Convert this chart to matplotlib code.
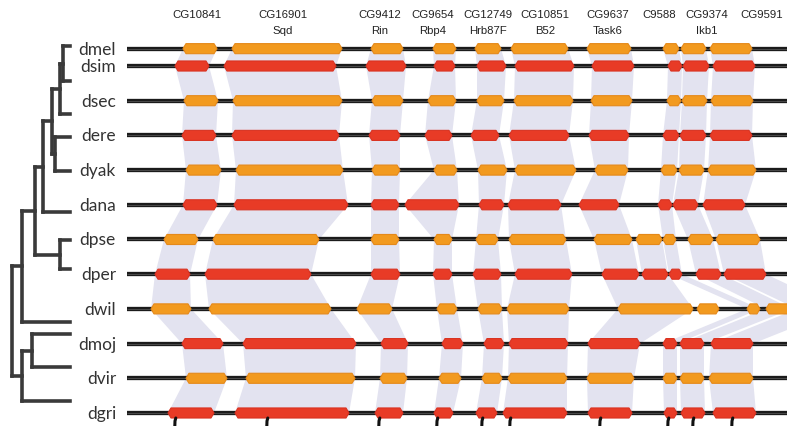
import matplotlib
matplotlib.use("Agg")
import matplotlib.pyplot as plt

# ---------------------------------------------------------------------------
# Data: gene models (start, end) on each species' scaffold, in a shared
# coordinate frame; None means the gene is not present on that track.
# ---------------------------------------------------------------------------
species = ["dmel", "dsim", "dsec", "dere", "dyak", "dana",
           "dpse", "dper", "dwil", "dmoj", "dvir", "dgri"]

genes = ["CG10841", "CG16901", "CG9412", "CG9654", "CG12749", "CG10851",
         "CG9637", "GA-obs", "C9588", "CG9374", "CG9591", "GK-wil"]

header_top = ["CG10841", "CG16901", "CG9412", "CG9654", "CG12749",
              "CG10851", "CG9637", "C9588", "CG9374", "CG9591"]
header_bottom = ["", "Sqd", "Rin", "Rbp4", "Hrb87F", "B52", "Task6", "",
                 "Ikb1", ""]

dmel = [(183, 217), (232, 342), (371, 403), (433, 456), (475, 501), (511, 568),
        (587, 631), None, (663, 679), (681, 706), (710, 752), None]
dsim = [(175, 209), (224, 336), (366, 406), (434, 455), (477, 506), (515, 574),
        (592, 634), None, (668, 682), (683, 709), (713, 755), None]
dsec = [(184, 218), (233, 342), (372, 403), (428, 456), (477, 504), (514, 573),
        (591, 632), None, (667, 681), (682, 707), (711, 753), None]
dere = [(182, 216), (232, 339), (369, 400), (425, 452), (471, 499), (509, 569),
        (589, 629), None, (663, 679), (680, 706), (710, 752), None]
dyak = [(186, 221), (236, 343), (372, 400), (434, 457), (478, 507), (515, 576),
        (595, 628), None, (661, 677), (679, 704), (708, 756), None]
dana = [(183, 217), (234, 348), (371, 399), (405, 459), (479, 504), (508, 561),
        (579, 619), None, (658, 672), (673, 698), (703, 745), None]
dpse = [(164, 198), (213, 319), (371, 399), (434, 452), (476, 498), (509, 566),
        (594, 632), (636, 662), (663, 676), (688, 713), (716, 760), None]
dper = [(155, 190), (205, 311), (371, 400), (433, 452), (473, 501), (515, 572),
        (602, 639), (642, 668), (669, 682), (696, 721), (724, 766), None]
dwil = [(151, 191), (209, 331), (357, 392), (437, 457), (478, 502), (507, 569),
        (618, 693), None, (747, 760), (766, 792), (797, 840), (697, 719)]
dmoj = [(182, 223), (243, 356), (381, 408), (442, 463), (484, 504), (509, 568),
        (588, 640), None, (663, 677), (680, 704), (711, 753), None]
dvir = [(186, 227), (246, 355), (380, 407), (439, 461), (482, 502), (508, 567),
        (587, 634), None, (663, 677), (680, 704), (709, 753), None]
dgri = [(168, 214), (235, 349), (375, 403), (434, 453), (476, 497), (503, 567),
        (588, 632), None, (664, 677), (681, 705), (713, 756), None]

tracks = [dmel, dsim, dsec, dere, dyak, dana, dpse, dper, dwil, dmoj, dvir, dgri]

# extra orthology links between neighbouring tracks
extra_links = [("dper", "GA-obs", "dwil", "CG9637")]

# ---------------------------------------------------------------------------
# Layout / style
# ---------------------------------------------------------------------------
track_y = [0.5, 1, 2, 3, 4, 5, 6, 7, 8, 9, 10, 11]   # vertical slot per species
track_x0 = 127
gene_h = 0.29
chamfer = 3.0
ORANGE = "#F29A1F"
ORANGE_EDGE = "#E5891A"
RED = "#E83B26"
RED_EDGE = "#D93322"
RIBBON = "#E3E3F0"
LINE = "#1b1b1b"
TREE = "#3a3a3a"

W, H = 787, 427
fig = plt.figure(figsize=(W / 100, H / 100), dpi=100)
ax = fig.add_axes([0, 0, 1, 1])
ax.set_xlim(0, W)
ax.set_ylim(11.375, -0.931)
ax.axis("off")

sp_index = {s: i for i, s in enumerate(species)}
g_index = {g: i for i, g in enumerate(genes)}


def ribbon(a, b, ya, yb):
    ax.fill([a[0], a[1], b[1], b[0]], [ya, ya, yb, yb],
            color=RIBBON, lw=0, zorder=1)


# synteny ribbons between consecutive tracks
for i in range(len(tracks) - 1):
    for gi in range(len(genes)):
        a, b = tracks[i][gi], tracks[i + 1][gi]
        if a is not None and b is not None:
            ribbon(a, b, track_y[i], track_y[i + 1])
for sa, ga, sb, gb in extra_links:
    ia, ib = sp_index[sa], sp_index[sb]
    ribbon(tracks[ia][g_index[ga]], tracks[ib][g_index[gb]],
           track_y[ia], track_y[ib])

# scaffold lines and gene blocks
for i, (name, tr) in enumerate(zip(species, tracks)):
    y = track_y[i]
    ax.plot([track_x0, W + 5], [y, y], color=LINE, lw=3.1,
            solid_capstyle="butt", zorder=2)
    ax.plot([track_x0, W + 5], [y, y], color="#4a4a4a", lw=0.7,
            solid_capstyle="butt", zorder=2)
    face, edge = (ORANGE, ORANGE_EDGE) if i % 2 == 0 else (RED, RED_EDGE)
    for g in tr:
        if g is None:
            continue
        s, e = g
        xs = [s, s + chamfer, e - chamfer, e, e - chamfer, s + chamfer]
        ys = [y, y - gene_h / 2, y - gene_h / 2, y, y + gene_h / 2, y + gene_h / 2]
        ax.fill(xs, ys, facecolor=face, edgecolor=edge, lw=0.8, zorder=3)
    ax.text(116, y, name, ha="right", va="center", fontsize=12.5,
            family="Lato", color="#333333", zorder=4)

# gene headers
header_x = [197, 283, 380, 433, 488, 545, 608, 659, 707, 762]
ov = fig.add_axes([0, 0, 1, 1], facecolor="none")
ov.set_xlim(0, W)
ov.set_ylim(H, 0)
ov.axis("off")
for x, t1, t2 in zip(header_x, header_top, header_bottom):
    ov.text(x, 15, t1, ha="center", va="center", fontsize=8.2,
            family="Liberation Sans", color="#222222")
    if t2:
        ov.text(x, 31, t2, ha="center", va="center", fontsize=8.2,
                family="Liberation Sans", color="#222222")

# species tree (cladogram); internal nodes are [x, child, child]
leaf_y = {"dmel": 47, "dsim": 82, "dsec": 115, "dere": 138, "dyak": 172,
          "dana": 213, "dpse": 241, "dper": 270, "dwil": 323, "dmoj": 335,
          "dvir": 368, "dgri": 402}
leaf_x = 70
tree = [12,
        [22,
         [35,
          [43,
           [52,
            [60, [63, "dmel", "dsim"], "dsec"],
            [55, "dere", "dyak"]],
           "dana"],
          [60, "dpse", "dper"]],
         "dwil"],
        [22, [32, "dmoj", "dvir"], "dgri"]]


def draw_node(node):
    if isinstance(node, str):
        return leaf_x, leaf_y[node]
    x, c1, c2 = node
    pts = [draw_node(c1), draw_node(c2)]
    for cx, cy in pts:
        ov.plot([x, cx], [cy, cy], color=TREE, lw=2.6, solid_capstyle="projecting")
    ov.plot([x, x], [pts[0][1], pts[1][1]], color=TREE, lw=2.6,
            solid_capstyle="projecting")
    return x, (pts[0][1] + pts[1][1]) / 2


draw_node(tree)

# connector stubs running off the bottom edge
stub_x = [175, 267, 379, 437, 482, 510, 600, 668, 693, 732]
for x in stub_x:
    ov.plot([x - 0.3, x, x + 0.8], [430, 422, 419], color="#111111", lw=2.2,
            solid_capstyle="round")

fig.savefig("out.png", dpi=100)
